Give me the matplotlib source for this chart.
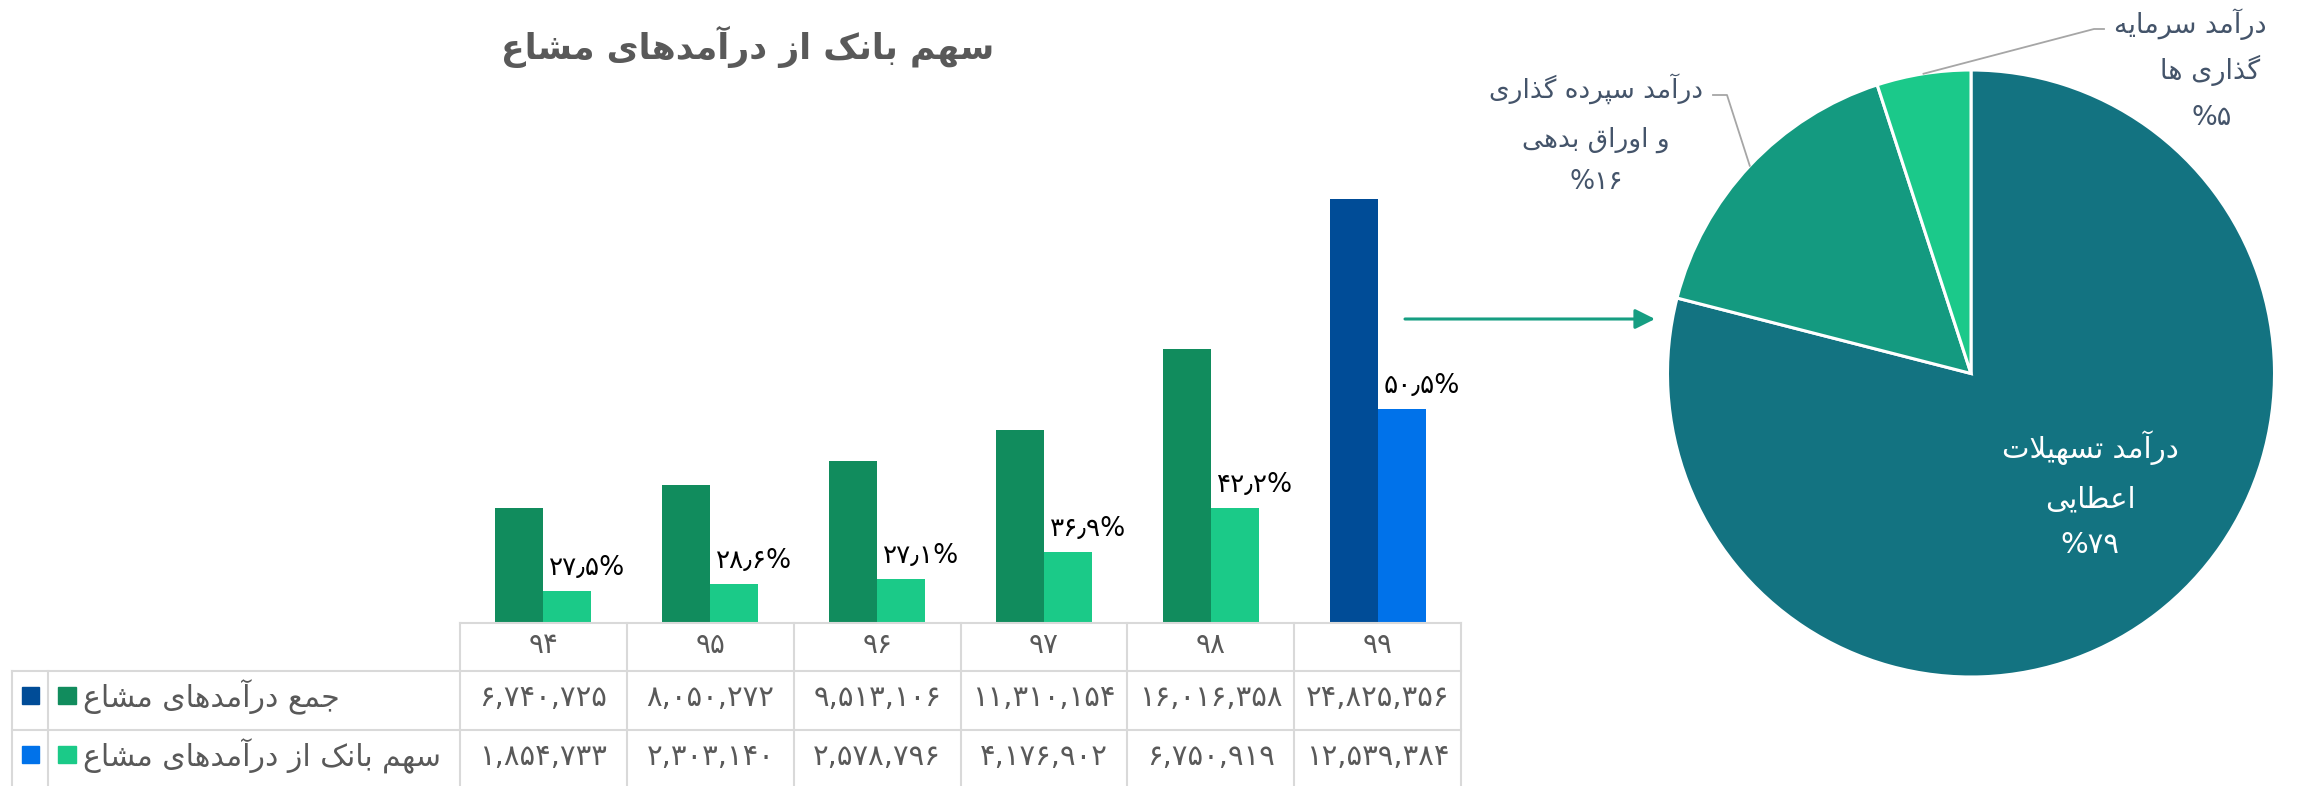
import matplotlib
matplotlib.use("Agg")
import matplotlib.pyplot as plt
import numpy as np

# -------- DATA --------
years = ["94", "95", "96", "97", "98", "99"]
total_income = [6740725, 8050272, 9513106, 11310154, 16016358, 24825356]
bank_share = [1854733, 2303140, 2578796, 4176902, 6750919, 12539384]
row_labels = ["جمع درآمدهای مشاع", "سهم بانک از درآمدهای مشاع"]
title = "سهم بانک از درآمدهای مشاع"

pie_values = [79, 16, 5]
pie_labels = [["درآمد تسهیلات", "اعطایی"],
              ["درآمد سپرده گذاری", "و اوراق بدهی"],
              ["درآمد سرمایه", "گذاری ها"]]

# colours
c_total = "#118C5D"
c_share = "#1BCA88"
c_total_last = "#004C97"
c_share_last = "#0072EA"
pie_colors = ["#137381", "#149A80", "#1BC98A"]
grid_c = "#D9D9D9"
text_c = "#595959"
label_c = "#44546A"

# -------- persian shaping (no bidi lib available) --------
# isolated, final, initial, medial
FORMS = {
    "ا": (0xFE8D, 0xFE8E), "آ": (0xFE81, 0xFE82),
    "د": (0xFEA9, 0xFEAA), "ذ": (0xFEAB, 0xFEAC),
    "ر": (0xFEAD, 0xFEAE), "ز": (0xFEAF, 0xFEB0),
    "و": (0xFEED, 0xFEEE),
    "ب": (0xFE8F, 0xFE90, 0xFE91, 0xFE92),
    "پ": (0xFB56, 0xFB57, 0xFB58, 0xFB59),
    "ت": (0xFE95, 0xFE96, 0xFE97, 0xFE98),
    "ج": (0xFE9D, 0xFE9E, 0xFE9F, 0xFEA0),
    "س": (0xFEB1, 0xFEB2, 0xFEB3, 0xFEB4),
    "ش": (0xFEB5, 0xFEB6, 0xFEB7, 0xFEB8),
    "ط": (0xFEC1, 0xFEC2, 0xFEC3, 0xFEC4),
    "ع": (0xFEC9, 0xFECA, 0xFECB, 0xFECC),
    "ق": (0xFED5, 0xFED6, 0xFED7, 0xFED8),
    "ک": (0xFB8E, 0xFB8F, 0xFB90, 0xFB91),
    "گ": (0xFB92, 0xFB93, 0xFB94, 0xFB95),
    "ل": (0xFEDD, 0xFEDE, 0xFEDF, 0xFEE0),
    "م": (0xFEE1, 0xFEE2, 0xFEE3, 0xFEE4),
    "ن": (0xFEE5, 0xFEE6, 0xFEE7, 0xFEE8),
    "ه": (0xFEE9, 0xFEEA, 0xFEEB, 0xFEEC),
    "ی": (0xFBFC, 0xFBFD, 0xFBFE, 0xFBFF),
}
LAM_ALEF = {"ا": (0xFEFB, 0xFEFC), "آ": (0xFEF5, 0xFEF6)}


def dual(c):
    return c in FORMS and len(FORMS[c]) == 4


def fa(text):
    out = []
    i, n = 0, len(text)
    while i < n:
        c = text[i]
        if c not in FORMS:
            out.append(c)
            i += 1
            continue
        join_prev = i > 0 and dual(text[i - 1])
        if c == "ل" and i + 1 < n and text[i + 1] in LAM_ALEF:
            lig = LAM_ALEF[text[i + 1]]
            out.append(chr(lig[1] if join_prev else lig[0]))
            i += 2
            continue
        join_next = dual(c) and i + 1 < n and text[i + 1] in FORMS
        f = FORMS[c]
        if join_prev and join_next:
            code = f[3]
        elif join_prev:
            code = f[1]
        elif join_next:
            code = f[2]
        else:
            code = f[0]
        out.append(chr(code))
        i += 1
    return "".join(out)[::-1]


DIG = str.maketrans("0123456789", "۰۱۲۳۴۵۶۷۸۹")


def fnum(s):
    return str(s).translate(DIG)


plt.rcParams["font.family"] = ["DejaVu Sans"]

# -------- FIGURE --------
W, H = 2307, 786
fig = plt.figure(figsize=(W / 100, H / 100), dpi=100)

# bar chart area (pixel layout)
tab_l, tab_r = 460, 1461
base_y, top_y = 623, 100
ax = fig.add_axes([tab_l / W, (H - base_y) / H, (tab_r - tab_l) / W, (base_y - top_y) / H])
x = np.arange(len(years))
bw = 0.288
cols_total = [c_total] * (len(years) - 1) + [c_total_last]
cols_share = [c_share] * (len(years) - 1) + [c_share_last]
ax.bar(x - bw / 2, total_income, bw, color=cols_total)
ax.bar(x + bw / 2, bank_share, bw, color=cols_share)
ax.set_xlim(-0.5, len(years) - 0.5)
ax.set_ylim(0, 30.62e6)
ax.axis("off")

for i in range(len(years)):
    pct = bank_share[i] / total_income[i] * 100
    lab = fnum(f"{pct:.1f}").replace(".", "٫") + "%"
    ax.annotate(lab, xy=(x[i], bank_share[i]), xytext=(6, 16),
                textcoords="offset pixels", ha="left", va="baseline",
                fontsize=19, color="black")

# pie
cx, cy, r = 1971, 373.5, 303.5
pax = fig.add_axes([(cx - r) / W, (H - cy - r) / H, 2 * r / W, 2 * r / H])
pax.pie(pie_values, colors=pie_colors, startangle=90, counterclock=False,
        radius=1, wedgeprops=dict(edgecolor="white", linewidth=2.2))
pax.set_xlim(-1, 1)
pax.set_ylim(-1, 1)
pax.axis("off")

# overlay in pixel coordinates for title, table, labels, arrow
ov = fig.add_axes([0, 0, 1, 1])
ov.set_xlim(0, W)
ov.set_ylim(H, 0)
ov.axis("off")

ov.text(748, 47, fa(title), ha="center", va="center", fontsize=25,
        fontweight="bold", color=text_c)

# table grid
col_w = (tab_r - tab_l) / len(years)
row_y = [623, 671, 730]
lw = 1.5
ov.plot([tab_l, tab_r], [row_y[0], row_y[0]], color=grid_c, lw=lw)
for yy in row_y[1:]:
    ov.plot([12, tab_r], [yy, yy], color=grid_c, lw=lw)
for k in range(len(years) + 1):
    xx = tab_l + k * col_w
    ov.plot([xx, xx], [row_y[0], H], color=grid_c, lw=lw)
for xx in (12, 48):
    ov.plot([xx, xx], [row_y[1], H], color=grid_c, lw=lw)

# table texts
for i, yr in enumerate(years):
    xc = tab_l + (i + 0.5) * col_w
    ov.text(xc, 645, fnum(yr), ha="center", va="center", fontsize=20, color=text_c)
    ov.text(xc, 698, fnum(f"{total_income[i]:,}"), ha="center", va="center",
            fontsize=21, color=text_c)
    ov.text(xc, 757, fnum(f"{bank_share[i]:,}"), ha="center", va="center",
            fontsize=21, color=text_c)

legend_cols = [(c_total_last, c_total), (c_share_last, c_share)]
for j, yy in enumerate([696, 755]):
    ov.add_patch(plt.Rectangle((22, yy - 9), 17, 17, color=legend_cols[j][0]))
    ov.add_patch(plt.Rectangle((58, yy - 9), 18, 17, color=legend_cols[j][1]))
    ov.text(83, yy + 1, fa(row_labels[j]), ha="left", va="center", fontsize=21.5,
            color=text_c)

# arrow from last bar group to pie
ov.annotate("", xy=(1655, 319), xytext=(1405, 319),
            arrowprops=dict(arrowstyle="-|>", color="#169E82", lw=2.2,
                            mutation_scale=30, shrinkA=0, shrinkB=0))

# pie labels
mids = []
start = 90.0
for v in pie_values:
    ang = 360.0 * v / sum(pie_values)
    mids.append(np.deg2rad(start - ang / 2))
    start -= ang


def edge(k):
    return cx + r * np.cos(mids[k]), cy - r * np.sin(mids[k])


def pie_lines(k):
    return [fa(s) for s in pie_labels[k]] + ["%" + fnum(pie_values[k])]


# 79%: inside, white
for line, yy in zip(pie_lines(0), [448, 499, 545]):
    ov.text(2090, yy, line, ha="center", va="center", fontsize=21, color="white")

# 16%: outside left
ex, ey = edge(1)
ov.plot([ex, 1727, 1713], [ey, 95, 95], color="#A6A6A6", lw=1.3)
for line, yy in zip(pie_lines(1), [89, 140, 182]):
    ov.text(1596, yy, line, ha="center", va="center", fontsize=19, color=label_c)

# 5%: outside top right
ex, ey = edge(2)
ov.plot([ex, 2094, 2104], [ey, 29, 29], color="#A6A6A6", lw=1.3)
for line, xx, yy in zip(pie_lines(2), [2190, 2210, 2212], [24, 70, 118]):
    ov.text(xx, yy, line, ha="center", va="center", fontsize=19.5, color=label_c)

fig.savefig("out.png", dpi=100)
